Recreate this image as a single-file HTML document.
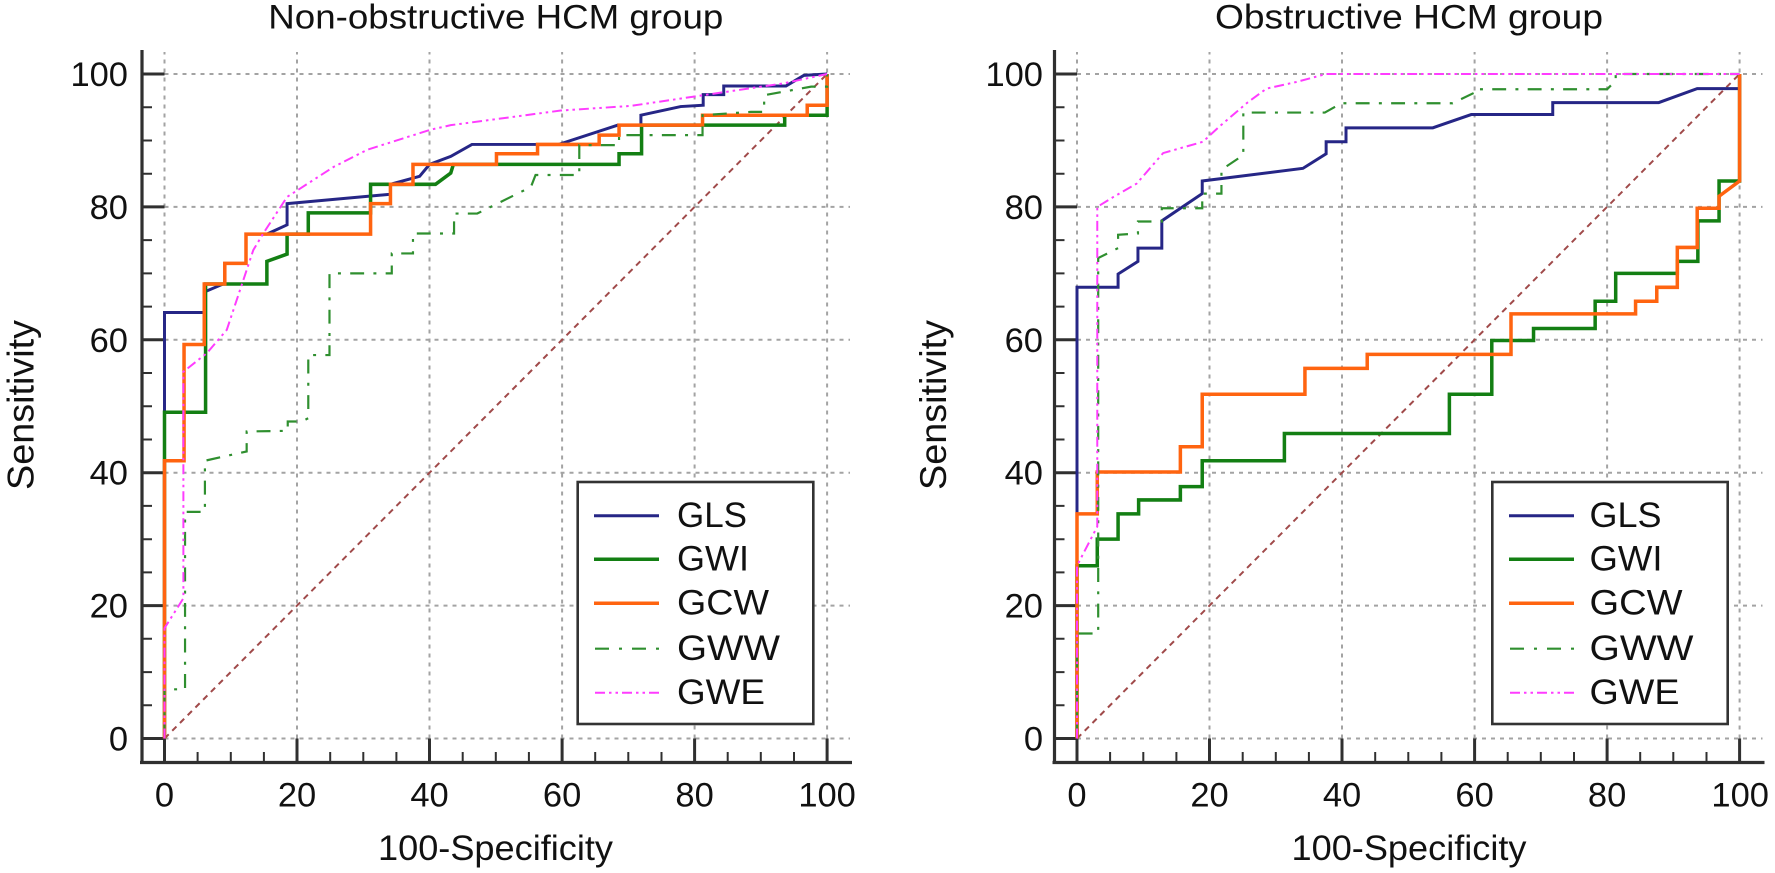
<!DOCTYPE html>
<html><head><meta charset="utf-8"><style>
html,body{margin:0;padding:0;background:#fff;}
svg{display:block;}
text{font-family:"Liberation Sans",Arial,sans-serif;fill:#111;}
</style></head><body>
<svg width="1775" height="873" viewBox="0 0 1775 873" xmlns="http://www.w3.org/2000/svg">
<rect width="1775" height="873" fill="#fff"/>
<defs>
<g id="frame">
  <!-- grid -->
  <g stroke="#a3a3a3" stroke-width="2" stroke-dasharray="4 5" fill="none">
    <path d="M164.5 738.5V52 M297 738.5V52 M429.5 738.5V52 M562.1 738.5V52 M694.6 738.5V52 M827.1 738.5V52"/>
    <path d="M164.5 738.5H850 M164.5 605.6H850 M164.5 472.7H850 M164.5 339.8H850 M164.5 206.9H850 M164.5 74H850"/>
  </g>
  <!-- axes -->
  <g stroke="#303030" fill="none">
    <path d="M142 50V764 M140 762.5H852" stroke-width="3.2"/>
    <path stroke-width="3" d="M142 738.5H164.5 M142 605.6H164.5 M142 472.7H164.5 M142 339.8H164.5 M142 206.9H164.5 M142 74H164.5
      M164.5 762.5V738.5 M297 762.5V738.5 M429.5 762.5V738.5 M562.1 762.5V738.5 M694.6 762.5V738.5 M827.1 762.5V738.5"/>
    <path stroke-width="2" d="M142 705.3H152 M142 672.1H152 M142 638.8H152 M142 572.4H152 M142 539.2H152 M142 505.9H152
      M142 439.5H152 M142 406.3H152 M142 373H152 M142 306.6H152 M142 273.4H152 M142 240.1H152
      M142 173.7H152 M142 140.5H152 M142 107.2H152
      M197.6 762.5V752 M230.8 762.5V752 M263.9 762.5V752 M330.2 762.5V752 M363.3 762.5V752 M396.4 762.5V752
      M462.7 762.5V752 M495.8 762.5V752 M528.9 762.5V752 M595.2 762.5V752 M628.3 762.5V752 M661.5 762.5V752
      M727.7 762.5V752 M760.8 762.5V752 M794 762.5V752"/>
  </g>
</g>
</defs>

<use href="#frame"/>
<use href="#frame" transform="translate(912.5,0)"/>

<!-- LEFT DATA -->
<g transform="translate(164.5 738.5) scale(6.626 -6.645)" fill="none" stroke-linejoin="miter">
  <path d="M0 0L100 100" stroke="#a04a4a" stroke-width="0.3" stroke-dasharray="0.9 0.75"/>
  <polyline stroke="#262686" stroke-width="0.45" points="0,0 0,64.1 6,64.1 6,67.2 9.1,68.5 9.1,71.5 12.3,71.5 12.3,75.9 15.45,75.9 18.5,77.3 18.5,80.5 34.1,81.9 34.1,83.4 38.5,84.6 40,86.4 43.2,87.6 46.4,89.4 59.5,89.4 68.4,92.3 71.9,92.3 71.9,93.8 77.9,95.1 81.3,95.3 81.3,96.9 84.4,96.9 84.4,98.2 93.8,98.2 96.5,99.8 100,100"/>
  <polyline stroke="#137f13" stroke-width="0.53" points="0,0 0,49.1 6.2,49.1 6.2,68.4 15.45,68.4 15.45,71.8 18.5,72.9 18.5,75.9 21.7,75.9 21.7,79.1 31.1,79.1 31.1,83.4 40.9,83.4 43.2,85.1 43.6,86.4 68.6,86.4 68.6,88 72,88 72,92.3 93.6,92.3 93.6,93.8 100,93.8 100,100"/>
  <polyline stroke="#ff6410" stroke-width="0.53" points="0,0 0,41.8 2.95,41.8 2.95,59.3 6,59.3 6,68.4 9.1,68.4 9.1,71.5 12.3,71.5 12.3,75.9 31.1,75.9 31.1,80.5 34.1,80.5 34.1,83.4 37.5,83.4 37.5,86.4 50.1,86.4 50.1,88 56.3,88 56.3,89.4 65.6,89.4 65.6,90.8 68.6,90.8 68.6,92.3 81.2,92.3 81.2,93.8 97,93.8 97,95.3 100,95.3 100,100"/>
  <polyline stroke="#2f8f2f" stroke-width="0.33" stroke-dasharray="2.1 1.4 0.45 1.4" points="0,0 0,7.4 3.1,7.4 3.1,34.1 6.1,34.1 6.1,41.8 12.4,43.2 12.4,46.2 18.6,46.3 18.6,47.7 20.7,47.7 21.7,48.2 21.7,57.7 24.9,57.7 24.9,70 34.3,70 34.3,73 37.5,73 37.5,76 43.7,76 43.7,79 47.2,79 55.3,83 56,84.8 62.6,84.8 62.6,89.3 68.6,89.3 68.6,90.8 81.2,90.8 81.2,93.8 88.5,94.3 90.5,94.3 90.5,96.8 97.6,98.1 100,98.1 100,100"/>
  <polyline stroke="#ff3cff" stroke-width="0.3" stroke-dasharray="1.5 0.6 0.38 0.6 0.38 0.6" points="0,0 0,16.6 2.85,21.1 2.85,55.2 6.4,58 9.4,61.5 10.9,66 13.4,73.5 14.9,76 18.5,81.5 25.5,86 30.6,88.6 40.1,91.6 43.2,92.3 59.8,94.5 70.4,95.2 79.9,96.6 93.5,98.6 100,100"/>
</g>

<!-- RIGHT DATA -->
<g transform="translate(1077 738.5) scale(6.626 -6.645)" fill="none" stroke-linejoin="miter">
  <path d="M0 0L100 100" stroke="#a04a4a" stroke-width="0.3" stroke-dasharray="0.9 0.75"/>
  <polyline stroke="#262686" stroke-width="0.45" points="0,0 0,67.9 6.2,67.9 6.2,69.9 9.2,71.8 9.2,73.8 12.8,73.8 12.8,77.9 18.9,82 18.9,83.9 34.1,85.8 37.6,88 37.6,89.8 40.6,89.8 40.6,91.9 53.7,91.9 59.5,93.9 71.8,93.9 71.8,95.7 87.8,95.7 93.6,97.8 100,97.8 100,100"/>
  <polyline stroke="#137f13" stroke-width="0.53" points="0,0 0,26 3.06,26 3.06,30 6.2,30 6.2,33.8 9.3,33.8 9.3,35.9 15.6,35.9 15.6,37.9 18.9,37.9 18.9,41.8 31.3,41.8 31.3,45.9 56.2,45.9 56.2,51.8 62.6,51.8 62.6,59.9 68.9,59.9 68.9,61.7 78.2,61.7 78.2,65.8 81.3,65.8 81.3,70 90.6,70 90.6,71.8 93.7,71.8 93.7,77.9 96.9,77.9 96.9,83.9 100,83.9 100,100"/>
  <polyline stroke="#ff6410" stroke-width="0.53" points="0,0 0,33.8 3.06,33.8 3.06,40.1 15.6,40.1 15.6,43.9 18.9,43.9 18.9,51.8 34.4,51.8 34.4,55.7 43.8,55.7 43.8,57.8 65.5,57.8 65.5,63.9 84.3,63.9 84.3,65.8 87.5,65.8 87.5,67.9 90.6,67.9 90.6,73.9 93.6,73.9 93.6,79.8 96.9,79.8 96.9,81.6 100,83.9 100,100"/>
  <polyline stroke="#2f8f2f" stroke-width="0.33" stroke-dasharray="2.1 1.4 0.45 1.4" points="0,0 0,15.8 3.2,15.8 3.2,72.3 6.2,73.8 6.2,75.8 9.2,76 9.2,77.8 12.8,77.8 12.8,79.8 18.9,79.8 18.9,82 21.8,82 21.8,85.6 25.1,87.8 25.1,94.2 37.4,94.2 39.9,95.6 56.7,95.6 60.2,97.3 60.2,97.7 80,97.7 81.3,99 81.3,100 100,100"/>
  <polyline stroke="#ff3cff" stroke-width="0.3" stroke-dasharray="1.5 0.6 0.38 0.6 0.38 0.6" points="0,0 0,26 3.06,31.9 3.06,80 5.5,81.5 9,83.5 13,88.1 19,89.8 21.5,92.1 25.6,95.6 28.6,97.8 33.1,98.8 37.6,100 100,100"/>
</g>

<!-- LEGENDS -->
<g fill="#fff" stroke="#333" stroke-width="2.6">
  <rect x="577.7" y="482" width="235.6" height="242"/>
  <rect x="1492.3" y="482" width="235.4" height="242"/>
</g>
<g fill="none">
  <path d="M594 515.7H659 M1509 515.7H1574" stroke="#262686" stroke-width="3"/>
  <path d="M594 559.3H659 M1509 559.3H1574" stroke="#137f13" stroke-width="3.5"/>
  <path d="M594 603.3H659 M1509 603.3H1574" stroke="#ff6410" stroke-width="3.5"/>
  <path d="M595 648.7H659 M1510 648.7H1574" stroke="#2f8f2f" stroke-width="2.2" stroke-dasharray="14 10 3 10"/>
  <path d="M595 692.7H659 M1510 692.7H1574" stroke="#ff3cff" stroke-width="2" stroke-dasharray="10 4 2.5 4 2.5 4"/>
</g>
<g font-size="35">
  <text x="677" y="527" textLength="70" lengthAdjust="spacingAndGlyphs">GLS</text>
  <text x="677" y="570.5" textLength="72" lengthAdjust="spacingAndGlyphs">GWI</text>
  <text x="677" y="614.5" textLength="92" lengthAdjust="spacingAndGlyphs">GCW</text>
  <text x="677" y="660" textLength="103" lengthAdjust="spacingAndGlyphs">GWW</text>
  <text x="677" y="704" textLength="88" lengthAdjust="spacingAndGlyphs">GWE</text>
  <text x="1589.5" y="527" textLength="72" lengthAdjust="spacingAndGlyphs">GLS</text>
  <text x="1589.5" y="570.5" textLength="73" lengthAdjust="spacingAndGlyphs">GWI</text>
  <text x="1589.5" y="614.5" textLength="93" lengthAdjust="spacingAndGlyphs">GCW</text>
  <text x="1589.5" y="660" textLength="104" lengthAdjust="spacingAndGlyphs">GWW</text>
  <text x="1589.5" y="704" textLength="90" lengthAdjust="spacingAndGlyphs">GWE</text>
</g>

<!-- TITLES -->
<g font-size="34">
  <text x="268.3" y="28.5" textLength="455" lengthAdjust="spacingAndGlyphs">Non-obstructive HCM group</text>
  <text x="1215" y="28.5" textLength="388" lengthAdjust="spacingAndGlyphs">Obstructive HCM group</text>
</g>

<!-- AXIS LABELS -->
<g font-size="35">
  <text x="378" y="860" textLength="235" lengthAdjust="spacingAndGlyphs">100-Specificity</text>
  <text x="1291.5" y="860" textLength="235" lengthAdjust="spacingAndGlyphs">100-Specificity</text>
</g>
<g font-size="37">
  <text transform="translate(33.5,405) rotate(-90)" x="-85" y="0" textLength="170" lengthAdjust="spacingAndGlyphs">Sensitivity</text>
  <text transform="translate(946,405) rotate(-90)" x="-85" y="0" textLength="170" lengthAdjust="spacingAndGlyphs">Sensitivity</text>
</g>

<!-- TICK LABELS -->
<g font-size="34.5" text-anchor="end">
  <text x="128" y="750.5">0</text>
  <text x="128" y="617.6">20</text>
  <text x="128" y="484.7">40</text>
  <text x="128" y="351.8">60</text>
  <text x="128" y="218.9">80</text>
  <text x="128" y="86">100</text>
  <text x="1043" y="750.5">0</text>
  <text x="1043" y="617.6">20</text>
  <text x="1043" y="484.7">40</text>
  <text x="1043" y="351.8">60</text>
  <text x="1043" y="218.9">80</text>
  <text x="1043" y="86">100</text>
</g>
<g font-size="34.5" text-anchor="middle">
  <text x="164.5" y="806.5">0</text>
  <text x="297" y="806.5">20</text>
  <text x="429.5" y="806.5">40</text>
  <text x="562.1" y="806.5">60</text>
  <text x="694.6" y="806.5">80</text>
  <text x="827.1" y="806.5">100</text>
  <text x="1077" y="806.5">0</text>
  <text x="1209.5" y="806.5">20</text>
  <text x="1342" y="806.5">40</text>
  <text x="1474.6" y="806.5">60</text>
  <text x="1607.1" y="806.5">80</text>
  <text x="1740.2" y="806.5">100</text>
</g>
</svg>
</body></html>
